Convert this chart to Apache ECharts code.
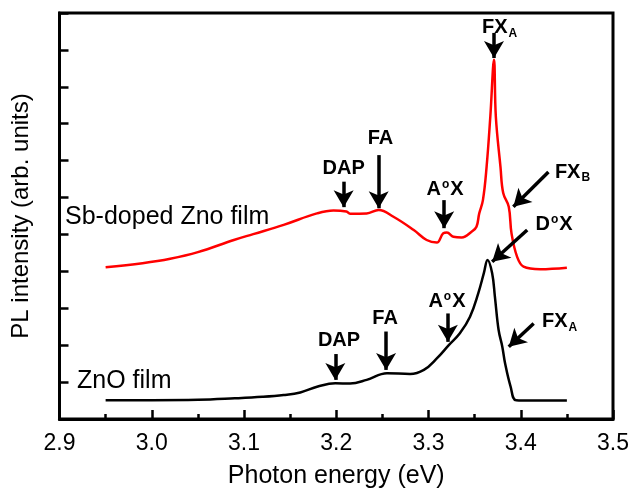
<!DOCTYPE html>
<html>
<head>
<meta charset="utf-8">
<script src="https://cdn.jsdelivr.net/npm/echarts@6/dist/echarts.min.js"></script>
<style>
html, body { margin: 0; padding: 0; background: #fff; }
#chart { width: 631px; height: 491px; }
</style>
</head>
<body>
<div id="chart"></div>
<script>
// PL spectra (eV vs arb. units)
const znoEnergy = [2.95, 3.00, 3.05, 3.09, 3.12, 3.143, 3.161, 3.18, 3.199, 3.215, 3.233, 3.255, 3.28, 3.295,
  3.309, 3.322, 3.334, 3.345, 3.354, 3.360, 3.364, 3.369, 3.372, 3.376, 3.380, 3.383, 3.389, 3.395, 3.413, 3.45]
const znoIntensity = [0.51, 0.51, 0.52, 0.56, 0.60, 0.65, 0.72, 0.88, 0.97, 0.96, 1.06, 1.24, 1.22, 1.33,
  1.64, 2.00, 2.32, 2.77, 3.41, 3.95, 4.31, 3.95, 3.31, 2.41, 1.96, 1.51, 0.88, 0.51, 0.50, 0.50]

const sbEnergy = [2.95, 2.99, 3.02, 3.05, 3.089, 3.11, 3.143, 3.179, 3.197, 3.211, 3.215, 3.233, 3.246, 3.262,
  3.284, 3.298, 3.309, 3.316, 3.320, 3.327, 3.336, 3.347, 3.352, 3.355, 3.359, 3.363, 3.367, 3.371, 3.373,
  3.378, 3.381, 3.387, 3.390, 3.396, 3.403, 3.421, 3.45]
const sbIntensity = [4.11, 4.22, 4.34, 4.52, 4.85, 5.01, 5.26, 5.57, 5.65, 5.62, 5.56, 5.57, 5.66, 5.48,
  5.12, 4.85, 4.78, 5.03, 5.05, 4.94, 4.92, 5.08, 5.21, 5.57, 5.93, 6.84, 8.19, 9.73, 8.19,
  6.84, 6.12, 5.75, 5.03, 4.40, 4.13, 4.06, 4.10]

const xTicks = [2.9, 3.0, 3.1, 3.2, 3.3, 3.4, 3.5]

// 标注：文字 [text, x, y, align]，箭头 [x1, y1, x2, y2]（数据坐标）
const sbNotes = [
  ['{b|DAP}', 3.208, 6.79, 'center'],
  ['{b|FA}', 3.248, 7.61, 'center'],
  ['{b|A}{sup|o}{b|X}', 3.318, 6.21, 'center'],
  ['{b|FX}{sub|A}', 3.358, 10.6, 'left'],
  ['{b|FX}{sub|B}', 3.437, 6.69, 'left'],
  ['{b|D}{sup|o}{b|X}', 3.416, 5.26, 'left'],
  ['{t|Sb-doped Zno film}', 2.906, 5.48, 'left']
]
const sbArrows = [
  [3.208, 6.43, 3.208, 5.74],
  [3.246, 7.15, 3.246, 5.71],
  [3.317, 5.93, 3.317, 5.17],
  [3.371, 10.46, 3.371, 9.78],
  [3.430, 6.69, 3.392, 5.75],
  [3.407, 5.12, 3.369, 4.26]
]
const znoNotes = [
  ['{b|DAP}', 3.203, 2.14, 'center'],
  ['{b|FA}', 3.253, 2.73, 'center'],
  ['{b|A}{sup|o}{b|X}', 3.320, 3.18, 'center'],
  ['{b|FX}{sub|A}', 3.423, 2.64, 'left'],
  ['{t|ZnO film}', 2.919, 1.03, 'left']
]
const znoArrows = [
  [3.199, 1.76, 3.199, 1.06],
  [3.254, 2.37, 3.254, 1.33],
  [3.321, 2.86, 3.321, 2.09],
  [3.414, 2.59, 3.387, 1.96]
]

const FONT = 'Arial, "Liberation Sans", sans-serif'
const rich = {
  b: { fontSize: 20, fontWeight: 'bold', fontFamily: FONT, color: '#000' },
  sup: { fontSize: 12, fontWeight: 'bold', fontFamily: FONT, color: '#000', verticalAlign: 'top', padding: [0, 1, 10, 1] },
  sub: { fontSize: 12, fontWeight: 'bold', fontFamily: FONT, color: '#000', verticalAlign: 'bottom', padding: [12, 0, 0, 1] },
  t: { fontSize: 25, fontFamily: FONT, color: '#000' }
}

const zip = (xs, ys) => xs.map((x, i) => [x, ys[i]])

const markPointsOf = notes => ({
  symbol: 'circle',
  symbolSize: 0,
  silent: true,
  animation: false,
  data: notes.map(([text, x, y, align]) => ({
    coord: [x, y],
    label: { show: true, formatter: text, rich, position: 'inside', align, verticalAlign: 'middle' }
  }))
})

const markLinesOf = arrows => ({
  symbol: ['none', 'arrow'],
  symbolSize: [15, 17],
  silent: true,
  animation: false,
  label: { show: false },
  lineStyle: { color: '#000', width: 3.5, type: 'solid' },
  data: arrows.map(([x1, y1, x2, y2]) => [{ coord: [x1, y1] }, { coord: [x2, y2] }])
})

const chart = echarts.init(document.getElementById('chart'))

const option = {
  animation: false,
  backgroundColor: '#fff',
  grid: {
    left: 59.5, right: 18, top: 13, bottom: 72,
    outerBoundsMode: 'none',
    containLabel: false,
    show: true, borderColor: '#000', borderWidth: 3, backgroundColor: 'transparent'
  },
  xAxis: {
    type: 'value',
    min: 2.9, max: 3.5, interval: 0.1,
    name: 'Photon energy (eV)',
    nameLocation: 'middle',
    nameGap: 45,
    nameTextStyle: { fontSize: 25, fontFamily: FONT, color: '#000' },
    axisLine: { show: true, lineStyle: { color: '#000', width: 3 } },
    axisTick: { show: true, inside: true, length: 9, lineStyle: { width: 2.5, color: '#000' } },
    minorTick: { show: true, splitNumber: 2, length: 5, lineStyle: { width: 2.5, color: '#000' } },
    axisLabel: {
      fontSize: 23, fontFamily: FONT, color: '#000', margin: 13,
      formatter: v => xTicks.some(t => Math.abs(t - v) < 1e-6) ? v.toFixed(1) : ''
    },
    splitLine: { show: false }
  },
  yAxis: {
    type: 'value',
    min: 0, max: 11, interval: 1,
    name: 'PL intensity (arb. units)',
    nameLocation: 'middle',
    nameGap: 26,
    nameTextStyle: { fontSize: 24, fontFamily: FONT, color: '#000' },
    axisLine: { show: true, lineStyle: { color: '#000', width: 3 } },
    axisTick: { show: true, inside: true, length: 9, lineStyle: { width: 2.5, color: '#000' } },
    axisLabel: { show: false },
    splitLine: { show: false }
  },
  series: [
    {
      name: 'Sb-doped Zno film',
      type: 'line',
      data: zip(sbEnergy, sbIntensity),
      showSymbol: false,
      smooth: 0.4,
      lineStyle: { color: '#ff0000', width: 2.5 },
      markPoint: markPointsOf(sbNotes),
      markLine: markLinesOf(sbArrows)
    },
    {
      name: 'ZnO film',
      type: 'line',
      data: zip(znoEnergy, znoIntensity),
      showSymbol: false,
      smooth: 0.4,
      lineStyle: { color: '#000', width: 2.5 },
      markPoint: markPointsOf(znoNotes),
      markLine: markLinesOf(znoArrows)
    }
  ]
}

chart.setOption(option)
</script>
</body>
</html>
